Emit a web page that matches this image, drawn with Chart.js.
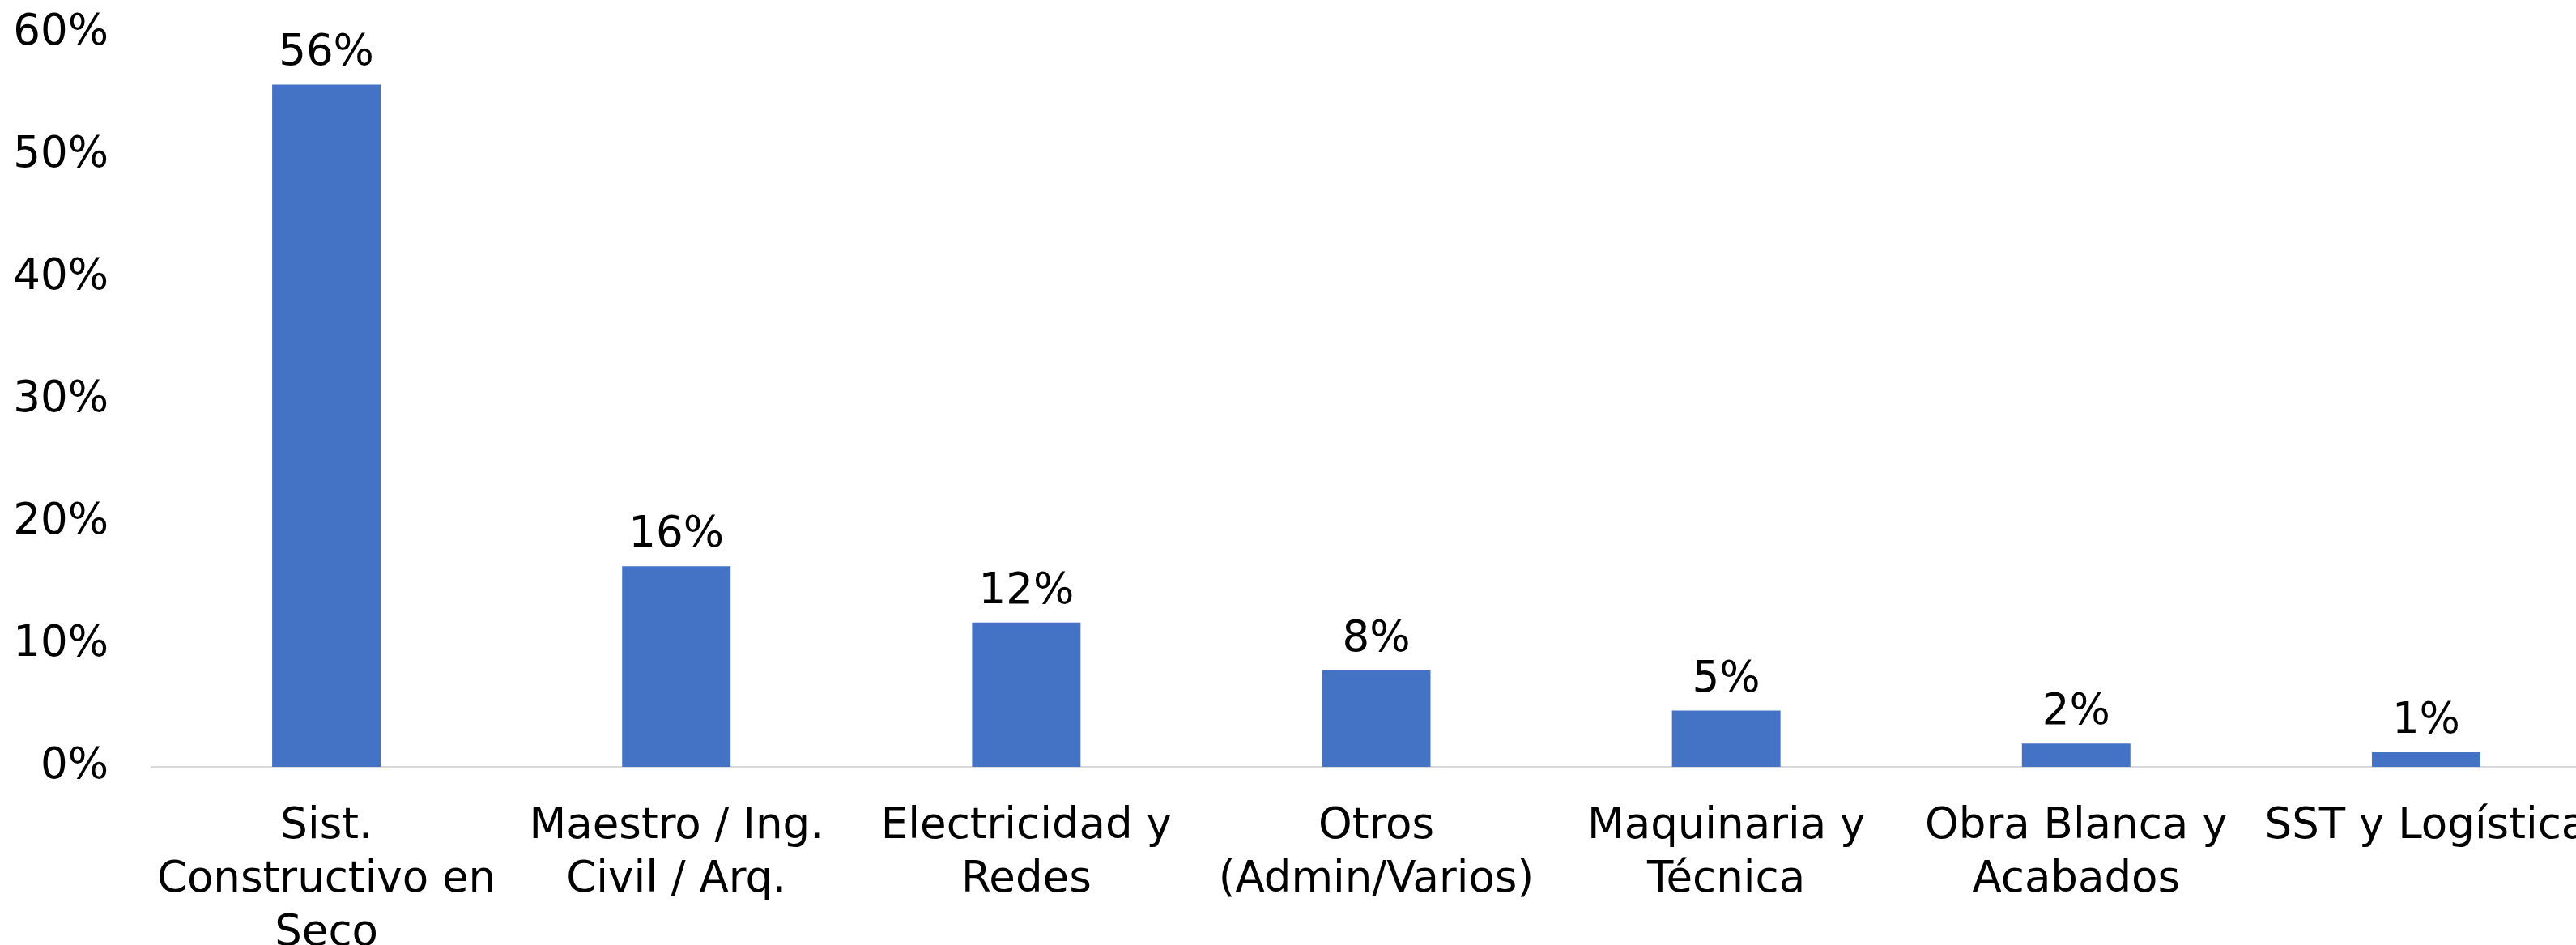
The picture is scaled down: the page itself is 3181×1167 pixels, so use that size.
<!DOCTYPE html>
<html>
<head>
<meta charset="utf-8">
<script src="https://cdn.jsdelivr.net/npm/chart.js@4.4.0/dist/chart.umd.min.js"></script>
<style>
  html, body { margin: 0; padding: 0; background: #fff; overflow: hidden; }
  #wrap { width: 3212px; height: 1167px; }
</style>
</head>
<body>
<div id="wrap"><canvas id="areaChart" width="3212" height="1167"></canvas></div>
<script>
const categories = [
    ['Sist.', 'Constructivo en', 'Seco'],
    ['Maestro / Ing.', 'Civil / Arq.'],
    ['Electricidad y', 'Redes'],
    ['Otros', '(Admin/Varios)'],
    ['Maquinaria y', 'Técnica'],
    ['Obra Blanca y', 'Acabados'],
    'SST y Logística'
];
const shares = [0.558, 0.164, 0.118, 0.079, 0.046, 0.019, 0.012];
const yTicks = [0, 0.1, 0.2, 0.3, 0.4, 0.5, 0.6];

const FONT = 'DejaVu Sans';
const FSIZE = 53;

// etiquetas de valor encima de cada barra
const valueLabels = {
    id: 'valueLabels',
    afterDatasetsDraw(chart) {
        const ctx = chart.ctx;
        const meta = chart.getDatasetMeta(0);
        ctx.save();
        ctx.font = FSIZE + 'px "' + FONT + '"';
        ctx.fillStyle = '#000';
        ctx.textAlign = 'center';
        ctx.textBaseline = 'alphabetic';
        meta.data.forEach((bar, i) => {
            const txt = Math.round(shares[i] * 100) + '%';
            ctx.fillText(txt, bar.x, bar.y - 24);
        });
        ctx.restore();
    }
};

const ctx = document.getElementById('areaChart').getContext('2d');
new Chart(ctx, {
    type: 'bar',
    data: {
        labels: categories,
        datasets: [{
            data: shares,
            backgroundColor: '#4472C4',
            borderWidth: 0,
            barPercentage: 0.31,
            categoryPercentage: 1
        }]
    },
    options: {
        responsive: false,
        animation: false,
        layout: { padding: { top: 41, right: 0, left: 0, bottom: 0 } },
        plugins: {
            legend: { display: false },
            tooltip: { enabled: false }
        },
        scales: {
            x: {
                grid: { display: false, drawTicks: false },
                border: { display: true, color: '#d9d9d9', width: 3 },
                ticks: {
                    color: '#000',
                    font: { family: FONT, size: FSIZE, lineHeight: 1.25 },
                    padding: 41,
                    maxRotation: 0,
                    autoSkip: false
                },
                afterFit(scale) {
                    scale.height = 220;
                    scale.paddingLeft = 0;
                    scale.paddingRight = 0;
                }
            },
            y: {
                min: 0,
                max: 0.6,
                grid: { display: false, drawTicks: false },
                border: { display: false },
                afterBuildTicks(scale) { scale.ticks = yTicks.map(v => ({ value: v })); },
                ticks: {
                    color: '#000',
                    font: { family: FONT, size: FSIZE },
                    padding: 53,
                    callback: v => Math.round(v * 100) + '%'
                },
                afterFit(scale) {
                    scale.width = 187;
                    scale.paddingTop = 0;
                    scale.paddingBottom = 0;
                }
            }
        }
    },
    plugins: [valueLabels]
});
</script>
</body>
</html>
